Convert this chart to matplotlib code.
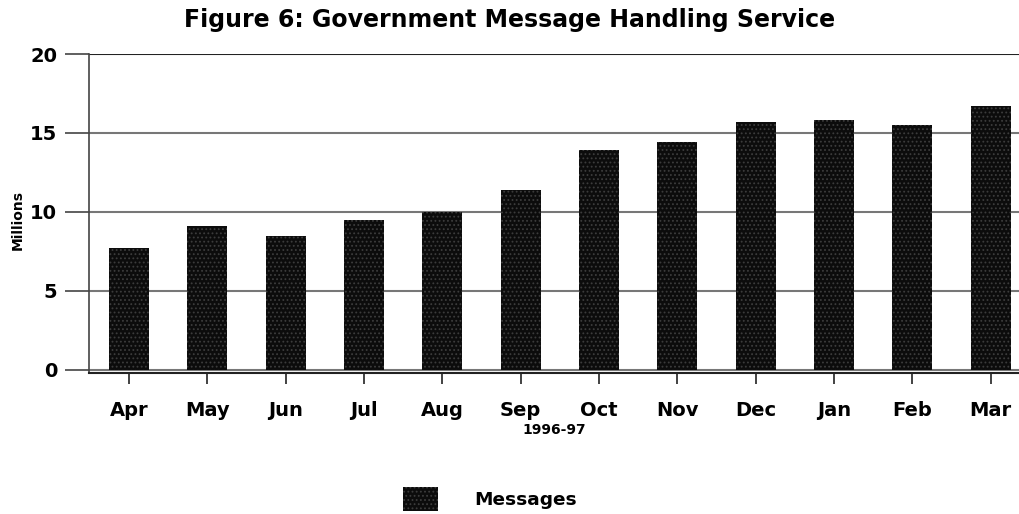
import matplotlib.pyplot as plt
from matplotlib.patches import Patch

months = ['Apr', 'May', 'Jun', 'Jul', 'Aug', 'Sep', 'Oct', 'Nov', 'Dec', 'Jan', 'Feb', 'Mar']
messages = [7.7, 9.1, 8.5, 9.5, 10.0, 11.4, 13.9, 14.4, 15.7, 15.8, 15.5, 16.7]
yticks = [0, 5, 10, 15, 20]


def main():
    plt.rcParams['font.family'] = 'DejaVu Sans'
    plt.rcParams['font.weight'] = 'bold'
    plt.rcParams['hatch.linewidth'] = 0.8

    fig = plt.figure(figsize=(10.19, 5.14), dpi=100)
    ax = fig.add_axes([89 / 1019, (514 - 373) / 514, 1 - 89 / 1019, 319 / 514])

    x = range(len(months))
    # grid lines first so bars sit on top
    for v in yticks[1:-1]:
        ax.axhline(v, color='#777777', lw=1.5, zorder=0)
    ax.axhline(20, color='#222222', lw=1.5, zorder=0)
    ax.axhline(0, color='#777777', lw=1.5, zorder=0)

    ax.bar(x, messages, width=0.51, color='#0c0c0c', edgecolor='#3c3c3c',
           hatch='....', linewidth=0, zorder=2)

    ax.set_xlim(-0.51, 11.36)
    ax.set_ylim(-0.2, 20)
    ax.set_yticks(yticks)
    ax.set_xticks(list(x))
    ax.set_xticklabels(months, fontsize=14, fontweight='bold')
    ax.set_yticklabels([str(v) for v in yticks], fontsize=14, fontweight='bold')
    ax.tick_params(axis='y', length=17, width=1.2, color='#444444', pad=6)
    ax.tick_params(axis='x', length=8, width=1.2, color='#222222', pad=12)

    for s in ['top', 'right']:
        ax.spines[s].set_visible(False)
    ax.spines['left'].set_color('#444444')
    ax.spines['bottom'].set_color('#222222')
    ax.spines['left'].set_linewidth(1.2)
    ax.spines['bottom'].set_linewidth(1.5)

    fig.text(18 / 1019, 1 - 220 / 514, 'Millions', rotation=90, ha='center', va='center',
             fontsize=10, fontweight='bold')
    ax.set_xlabel('1996-97', fontsize=10, fontweight='bold', labelpad=2)

    fig.suptitle('Figure 6: Government Message Handling Service', x=0.5, y=0.985,
                 fontsize=17, fontweight='bold')

    handle = Patch(facecolor='#0c0c0c', edgecolor='#3c3c3c', hatch='....', linewidth=0)
    fig.legend([handle], ['Messages'], loc='center', bbox_to_anchor=(490 / 1019, 1 - 499 / 514),
               frameon=False, handlelength=1.9, handleheight=1.7,
               handletextpad=2.0, prop={'weight': 'bold', 'size': 13.3})

    fig.savefig('out.png', dpi=100)


if __name__ == "__main__":
    main()
